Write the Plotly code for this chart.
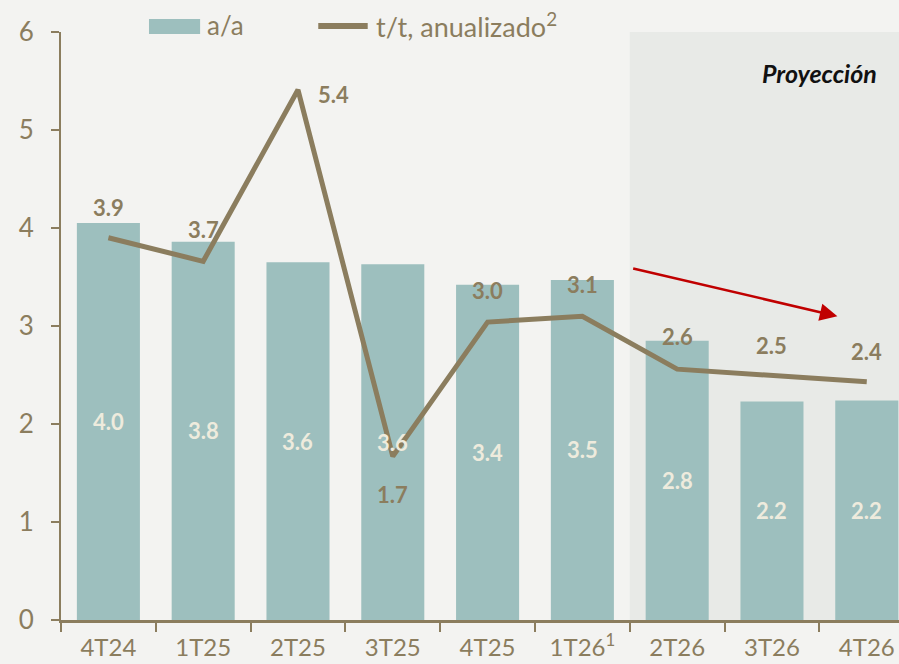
import plotly.graph_objects as go

quarters = ['4T24', '1T25', '2T25', '3T25', '4T25', '1T26<sup>1</sup>', '2T26', '3T26', '4T26']
yoy = [4.05, 3.86, 3.65, 3.63, 3.42, 3.47, 2.85, 2.23, 2.24]
yoy_labels = ['4.0', '3.8', '3.6', '3.6', '3.4', '3.5', '2.8', '2.2', '2.2']
qoq = [3.90, 3.66, 5.41, 1.67, 3.04, 3.10, 2.56, 2.49, 2.43]
qoq_labels = ['3.9', '3.7', '5.4', '1.7', '3.0', '3.1', '2.6', '2.5', '2.4']

LINE = '#8B7D5E'
BAR = '#9DBFBE'
FONT = 'Lato, Open Sans, sans-serif'

fig = go.Figure()

# projection band
fig.add_shape(type='rect', xref='x', yref='y', x0=5.5, x1=8.6, y0=0, y1=6.04,
              fillcolor='#E8EAE7', line_width=0, layer='below')

fig.add_trace(go.Bar(
    x=quarters, y=yoy, name='a/a', width=0.665,
    marker=dict(color=BAR, line_width=0),
))

fig.add_trace(go.Scatter(
    x=quarters, y=qoq, name='t/t, anualizado<sup>2</sup>', mode='lines',
    line=dict(color=LINE, width=5),
))

# bar labels, centred in the bars and drawn over the line
for q, v, lab in zip(quarters, yoy, yoy_labels):
    fig.add_annotation(x=q, y=v / 2, text='<b>%s</b>' % lab, showarrow=False,
                       font=dict(color='#EEEBDD', size=22, family=FONT))

# line labels
shifts = [(0, 30), (0, 32), (36, -5), (0, -38), (0, 32), (0, 32), (0, 33), (0, 30), (0, 30)]
for q, v, lab, (dx, dy) in zip(quarters, qoq, qoq_labels, shifts):
    fig.add_annotation(x=q, y=v, text='<b>%s</b>' % lab, showarrow=False,
                       xshift=dx, yshift=dy,
                       font=dict(color=LINE, size=22, family=FONT))

fig.add_annotation(x=8.13, y=5.58, xanchor='right', text='<b><i>Proyección</i></b>',
                   showarrow=False, font=dict(color='#111111', size=25, family=FONT))

fig.add_annotation(x=7.69, y=3.10, ax=5.52, ay=3.59, xref='x', yref='y',
                   axref='x', ayref='y', text='', showarrow=True,
                   arrowhead=2, arrowsize=1.4, arrowwidth=2.5, arrowcolor='#C00000')

# hand-made legend (wide swatches like the original)
fig.add_shape(type='rect', xref='paper', yref='paper', x0=0.105, x1=0.166, y0=0.9966, y1=1.022,
              fillcolor=BAR, line_width=0)
fig.add_annotation(xref='paper', yref='paper', x=0.172, y=1.012, xanchor='left', yanchor='middle',
                   text='a/a', showarrow=False, font=dict(size=26, color=LINE, family=FONT))
fig.add_shape(type='line', xref='paper', yref='paper', x0=0.307, x1=0.366, y0=1.010, y1=1.010,
              line=dict(color=LINE, width=6))
fig.add_annotation(xref='paper', yref='paper', x=0.374, y=1.012, xanchor='left', yanchor='middle',
                   text='t/t, anualizado<sup>2</sup>', showarrow=False,
                   font=dict(size=27, color=LINE, family=FONT))

fig.update_layout(
    width=899, height=664,
    margin=dict(l=61, r=0, t=32, b=44),
    paper_bgcolor='#F3F3F1', plot_bgcolor='#F3F3F1',
    font=dict(family=FONT, color=LINE),
    bargap=0.3,
    showlegend=False,
)

fig.update_xaxes(
    type='category', range=[-0.5, 8.34], automargin=False,
    showline=True, linecolor=LINE, linewidth=3,
    ticks='outside', tickson='boundaries', ticklen=9, tickwidth=2, tickcolor=LINE,
    tickfont=dict(size=24, color=LINE, family=FONT), ticklabelstandoff=4,
    showgrid=False,
)
fig.update_yaxes(
    range=[0, 6], dtick=1, automargin=False,
    showline=True, linecolor=LINE, linewidth=2,
    ticks='outside', ticklen=8, tickwidth=2, tickcolor=LINE,
    tickfont=dict(size=26, color=LINE, family=FONT), ticklabelstandoff=12,
    showgrid=False, zeroline=False,
)

fig.write_html('out.html', config={'displayModeBar': False},
               post_script="document.body.style.margin='0';")
